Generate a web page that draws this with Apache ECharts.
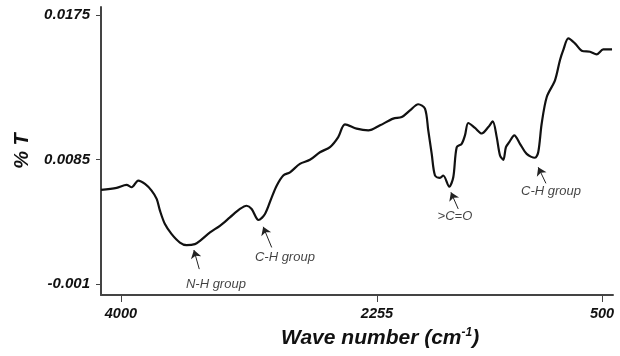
<!DOCTYPE html>
<html>
<head>
<meta charset="utf-8">
<script src="https://cdn.jsdelivr.net/npm/echarts@6/dist/echarts.min.js"></script>
<style>
  html, body { margin: 0; padding: 0; background: #fff; }
  #chart { width: 620px; height: 356px; }
</style>
</head>
<body>
<div id="chart"></div>
<script>
// spectrum: wave number (cm-1) and %T
var waveNumbers = [4145, 4031, 3959, 3922, 3874, 3825, 3777, 3740, 3716, 3680, 3631, 3571, 3522, 3462,
  3425, 3352, 3280, 3207, 3134, 3085, 3049, 2999, 2952, 2903, 2867, 2819, 2770, 2698, 2625, 2552,
  2479, 2419, 2370, 2285, 2200, 2115, 2019, 1957, 1897, 1837, 1788, 1764, 1739, 1715, 1679, 1655,
  1611, 1582, 1557, 1521, 1497, 1473, 1424, 1375, 1327, 1295, 1266, 1242, 1218, 1199, 1175, 1138,
  1097, 1048, 988, 964, 939, 902, 842, 806, 782, 745, 697, 648, 587, 539, 491, 447, 427];
var transmittance = [0.00547, 0.00561, 0.00581, 0.00565, 0.00611, 0.00588, 0.00542, 0.00485, 0.00404, 0.00312,
  0.00243, 0.00185, 0.00167, 0.00174, 0.00197, 0.00254, 0.00300, 0.00358, 0.00416, 0.00438, 0.00416,
  0.00340, 0.00381, 0.00496, 0.00576, 0.00646, 0.00668, 0.00726, 0.00754, 0.00806, 0.00841, 0.00910,
  0.00998, 0.00968, 0.00956, 0.00991, 0.01037, 0.01048, 0.01094, 0.01136, 0.01106, 0.00956, 0.00795,
  0.00646, 0.00630, 0.00646, 0.00570, 0.00634, 0.00841, 0.00864, 0.00922, 0.01007, 0.00973, 0.00935,
  0.00979, 0.01018, 0.00910, 0.00784, 0.00754, 0.00841, 0.00875, 0.00922, 0.00864, 0.00795, 0.00768,
  0.00806, 0.01002, 0.01186, 0.01301, 0.01439, 0.01508, 0.01589, 0.01555, 0.01504, 0.01497, 0.01479,
  0.01513, 0.01513, 0.01513];

// tick positions (the printed scale is not evenly spaced) and their labels
var xTickValues = [4000, 2137, 500];
var xTickLabels = ['4000', '2255', '500'];
var yTickValues = [-0.001, 0.00756, 0.0175];
var yTickLabels = ['-0.001', '0.0085', '0.0175'];

// peak annotations: label, label position, arrow tail, arrow tip
var peakNames = ['N-H group', 'C-H group', '>C=O', 'C-H group'];
var peakLabelPos = [[3309, -0.00100], [2807, 0.00086], [1570, 0.00363], [871, 0.00535]];
var arrowTails = [[3430, 0.00002], [2903, 0.00151], [1546, 0.00416], [908, 0.00592]];
var arrowTips = [[3469, 0.00133], [2965, 0.00293], [1599, 0.00530], [964, 0.00703]];

var FONT = '"Liberation Sans", Arial, sans-serif';

function tickLabel(values, labels) {
  return function (v) {
    var best = 0;
    for (var i = 1; i < values.length; i++) {
      if (Math.abs(values[i] - v) < Math.abs(values[best] - v)) best = i;
    }
    return labels[best];
  };
}

var chart = echarts.init(document.getElementById('chart'));

var spectrum = waveNumbers.map(function (w, i) { return [w, transmittance[i]]; });
var labelData = peakNames.map(function (n, i) { return { name: n, value: peakLabelPos[i] }; });
var arrowData = arrowTails.map(function (t, i) { return [{ coord: t }, { coord: arrowTips[i] }]; });

var option = {
  animation: false,
  title: {
    text: '{a|Wave number (cm}{s|-1}{a|)}',
    left: 276,
    top: 322,
    textStyle: {
      rich: {
        a: { fontFamily: FONT, fontSize: 21, fontWeight: 'bold', fontStyle: 'italic', color: '#111' },
        s: { fontFamily: FONT, fontSize: 12, fontWeight: 'bold', fontStyle: 'italic', color: '#111', verticalAlign: 'top', padding: [0, 0, 10, 0] }
      }
    }
  },
  grid: { left: 101, right: 7, top: 7, bottom: 61, containLabel: false, outerBoundsMode: 'none' },
  xAxis: {
    type: 'value',
    inverse: true,
    min: 420,
    max: 4145,
    splitLine: { show: false },
    axisLine: { onZero: false, lineStyle: { color: '#444', width: 2 } },
    axisTick: { length: 7, lineStyle: { color: '#444', width: 1 }, customValues: xTickValues },
    axisLabel: {
      customValues: xTickValues,
      formatter: tickLabel(xTickValues, xTickLabels),
      margin: 11,
      fontFamily: FONT, fontSize: 14.5, fontWeight: 'bold', fontStyle: 'italic', color: '#111'
    }
  },
  yAxis: {
    type: 'value',
    min: -0.00176,
    max: 0.01805,
    name: '% T',
    nameLocation: 'middle',
    nameRotate: 90,
    nameGap: 69,
    nameTextStyle: { fontFamily: FONT, fontSize: 20, fontWeight: 'bold', fontStyle: 'italic', color: '#111' },
    splitLine: { show: false },
    axisLine: { show: true, onZero: false, lineStyle: { color: '#444', width: 2 } },
    axisTick: { show: true, length: 5, lineStyle: { color: '#444', width: 1 }, customValues: yTickValues },
    axisLabel: {
      customValues: yTickValues,
      formatter: tickLabel(yTickValues, yTickLabels),
      margin: 11,
      fontFamily: FONT, fontSize: 15, fontWeight: 'bold', fontStyle: 'italic', color: '#111'
    }
  },
  series: [
    {
      type: 'line',
      data: spectrum,
      showSymbol: false,
      smooth: 0.3,
      lineStyle: { color: '#111', width: 2.2 },
      markLine: {
        silent: true,
        symbol: ['none', 'arrow'],
        symbolSize: 8,
        label: { show: false },
        lineStyle: { color: '#222', width: 1, type: 'solid' },
        data: arrowData
      }
    },
    {
      type: 'scatter',
      data: labelData,
      symbolSize: 0,
      silent: true,
      label: {
        show: true,
        position: 'inside',
        formatter: '{b}',
        fontFamily: FONT, fontSize: 13, fontStyle: 'italic', color: '#111'
      }
    }
  ]
};

chart.setOption(option);
</script>
</body>
</html>
